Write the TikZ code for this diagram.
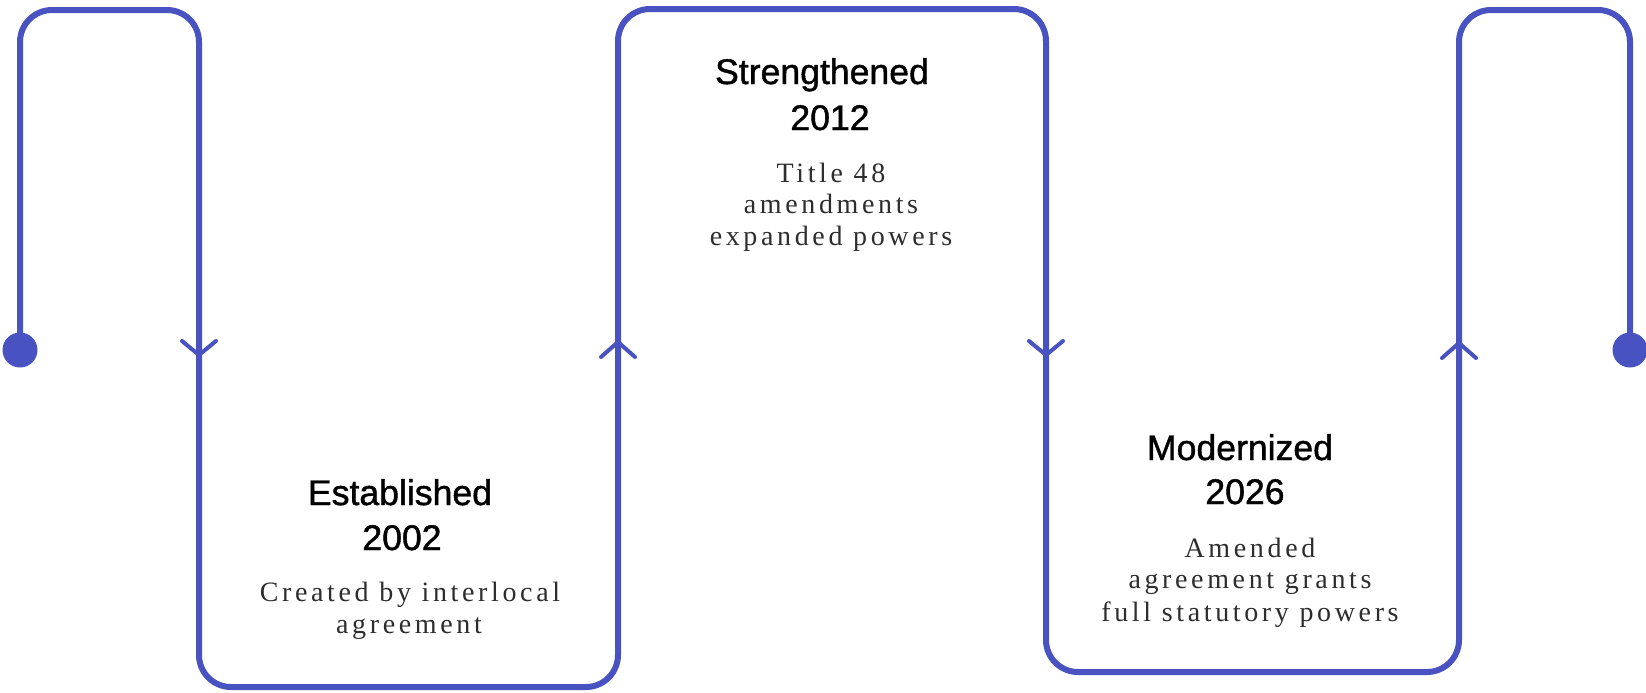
\documentclass[tikz,border=0pt]{standalone}
\usepackage{fontspec}
\setmainfont{Liberation Sans}
\newfontfamily\titlefont[FakeBold=1.2]{Liberation Sans}
\newfontfamily\descfont[LetterSpace=13]{Liberation Serif}
\definecolor{pathblue}{RGB}{72,82,192}
\definecolor{desctext}{RGB}{45,45,45}
\begin{document}
\begin{tikzpicture}[x=0.5pt,y=-0.5pt,
  track/.style={draw=pathblue, line width=3pt, rounded corners=16pt, line join=round},
  chev/.style={draw=pathblue, line width=2pt, line cap=round, line join=round},
  endpt/.style={circle, fill=pathblue, minimum size=17.5pt, inner sep=0pt},
  ttl/.style={anchor=base, inner sep=0pt, font=\titlefont\fontsize{17.8}{21}\selectfont, text=black},
  dsc/.style={anchor=base, inner sep=0pt, font=\descfont\fontsize{14}{16}\selectfont, text=desctext}]
\useasboundingbox (0,0) rectangle (1646,692);
% track
\coordinate (p0) at (20,350);
\coordinate (p1) at (1630,350);
\draw[track] (p0) -- (20,10) -- (199,10) -- (199,687) -- (618,687) -- (618,9)
  -- (1046,9) -- (1046,672) -- (1459,672) -- (1459,10) -- (1630,10) -- (p1);
\node[endpt] (dotL) at (p0) {};
\node[endpt] (dotR) at (p1) {};
% direction chevrons
\coordinate (a1) at (199,355);
\coordinate (a2) at (618,342);
\coordinate (a3) at (1046,355);
\coordinate (a4) at (1459,343);
\draw[chev] (a1) ++(-17,-14) -- (a1) -- ++(17,-14);
\draw[chev] (a2) ++(-17,15) -- (a2) -- ++(17,15);
\draw[chev] (a3) ++(-17,-14) -- (a3) -- ++(17,-14);
\draw[chev] (a4) ++(-17,15) -- (a4) -- ++(17,15);
% Established
\node[ttl] (t1) at (400,505) {Established};
\node[ttl] (y1) at (402,550) {2002};
\node[dsc] (d1a) at (410,601) {Created by interlocal};
\node[dsc] (d1b) at (409,633) {agreement};
% Strengthened
\node[ttl] (t2) at (822,84) {Strengthened};
\node[ttl] (y2) at (830,130) {2012};
\node[dsc] (d2a) at (831,182) {Title 48};
\node[dsc] (d2b) at (831,213) {amendments};
\node[dsc] (d2c) at (831,245) {expanded powers};
% Modernized
\node[ttl] (t3) at (1240,460) {Modernized};
\node[ttl] (y3) at (1245,504) {2026};
\node[dsc] (d3a) at (1250,557) {Amended};
\node[dsc] (d3b) at (1250,588) {agreement grants};
\node[dsc] (d3c) at (1250,621) {full statutory powers};
\end{tikzpicture}
\end{document}
